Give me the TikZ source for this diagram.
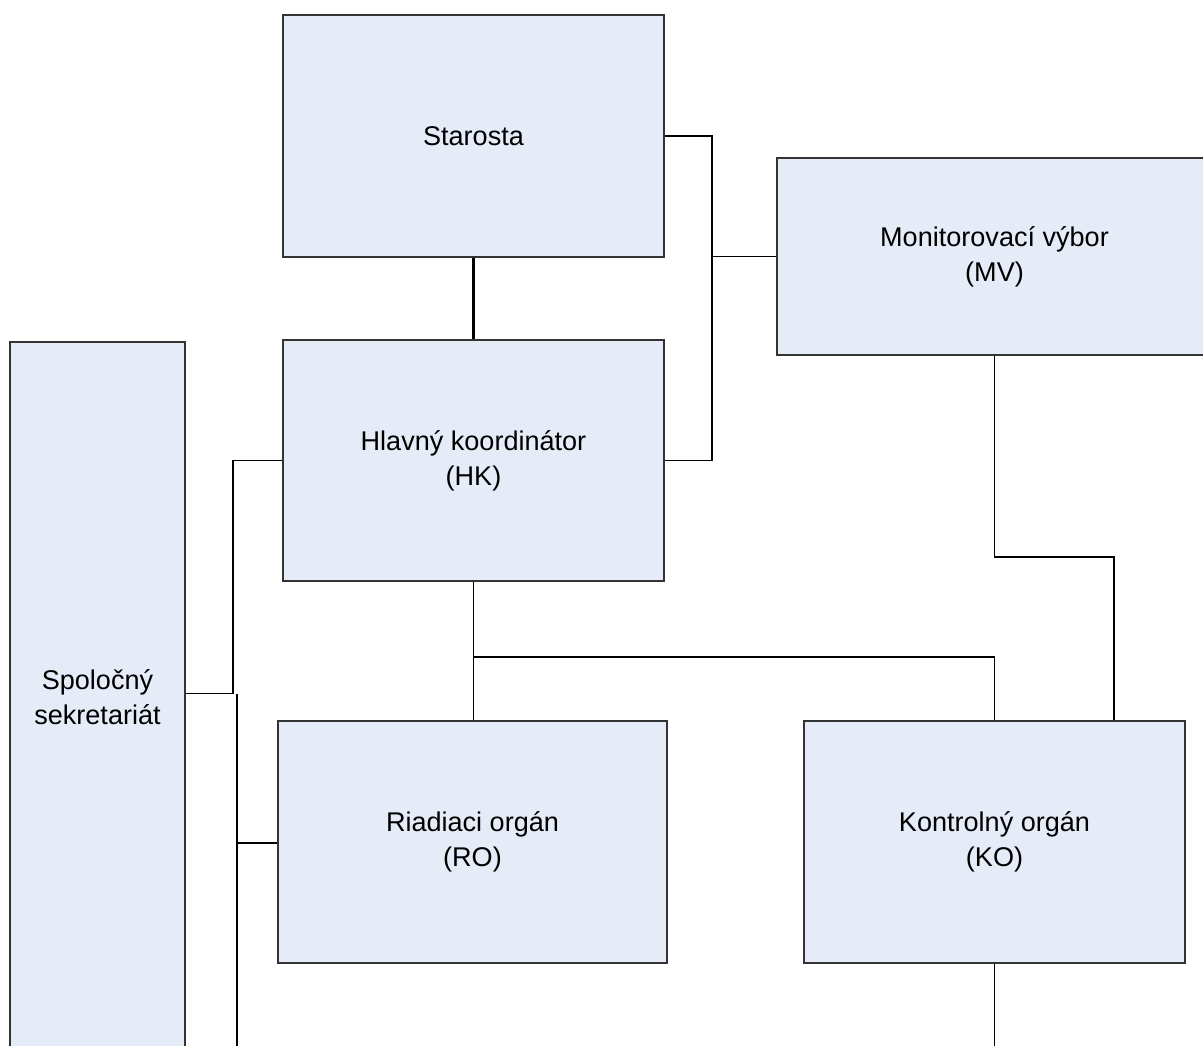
\documentclass[tikz,border=0pt]{standalone}
\usepackage{fontspec}
\setmainfont{Liberation Sans}
\usepackage{tikz}
\usetikzlibrary{positioning,calc}
\definecolor{boxfill}{HTML}{E6ECF7}
\tikzstyle{blok}= [rectangle, draw=black!80, line width=0.9pt, fill=boxfill, align=center, inner sep=0pt, font=\fontsize{15.4}{20}\selectfont]
\tikzstyle{spoj}= [line width=1.1pt]

\begin{document}
\begin{tikzpicture}
				\useasboundingbox (0,0) rectangle (24.06,-20.92);
				\node[blok, minimum width=7.62cm, minimum height=4.84cm] (st) at (9.47, -2.72) {Starosta};
				\node[blok, minimum width=8.70cm, minimum height=3.94cm] (mv) at (19.89, -5.13) {Monitorovací výbor\\(MV)};
				\node[blok, minimum width=7.62cm, minimum height=4.82cm] (hk) at (9.47, -9.21) {Hlavný koordinátor\\(HK)};
				\node[blok, minimum width=3.50cm, minimum height=14.20cm] (ss) at (1.95, -13.94) {Spoločný\\sekretariát};
				\node[blok, minimum width=7.78cm, minimum height=4.84cm] (ro) at (9.45, -16.84) {Riadiaci orgán\\(RO)};
				\node[blok, minimum width=7.62cm, minimum height=4.84cm] (ko) at (19.89, -16.84) {Kontrolný orgán\\(KO)};
				\coordinate (a1) at (14.24, -2.72);
				\coordinate (a2) at (14.24, -5.13);
				\coordinate (a3) at (14.24, -9.21);
				\coordinate (b1) at (9.47, -13.14);
				\coordinate (b2) at (19.89, -13.14);
				\coordinate (c1) at (19.89, -11.14);
				\coordinate (c2) at (22.28, -11.14);
				\coordinate (d1) at (4.66, -13.87);
				\coordinate (d2) at (4.66, -9.21);
				\coordinate (e1) at (4.74, -13.87);
				\coordinate (e2) at (4.74, -16.86);
				\coordinate (e3) at (4.74, -21.0);
				\coordinate (f1) at (19.89, -21.0);
				\draw[line width=1.6pt](st) -- (hk);
				\draw[spoj](st.east |- a1) -- (a1) -- (a3) -- (hk.east |- a3);
				\draw[spoj](a2) -- (mv.west |- a2);
				\draw[spoj](hk.south) -- (hk.south |- ro.north);
				\draw[spoj](b1) -- (b2) -- (ko.north);
				\draw[spoj](mv.south) -- (c1) -- (c2) -- (c2 |- ko.north);
				\draw[spoj](ss.east |- d1) -- (d1) -- (d2) -- (hk.west |- d2);
				\draw[spoj](e1) -- (e3);
				\draw[spoj](e2) -- (ro.west |- e2);
				\draw[spoj](ko.south) -- (f1);
			\end{tikzpicture}
\end{document}
